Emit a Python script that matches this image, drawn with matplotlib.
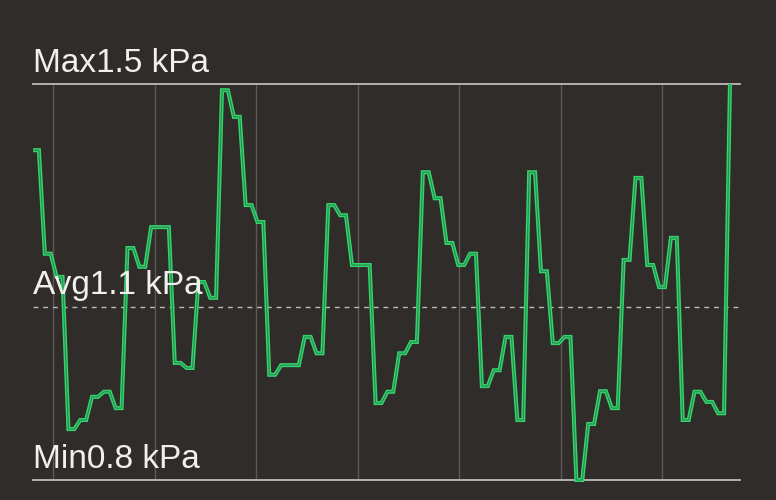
import numpy as np
import matplotlib
matplotlib.use("Agg")
import matplotlib.pyplot as plt

# ---- data (kPa), one value per step ----
pressure = [1.383, 1.200, 1.159, 0.890, 0.906, 0.947, 0.956, 0.927, 1.210, 1.177,
            1.247, 1.247, 1.007, 0.998, 1.150, 1.122, 1.489, 1.442, 1.286, 1.256,
            0.986, 1.003, 1.003, 1.053, 1.024, 1.286, 1.268, 1.180, 1.180, 0.936,
            0.956, 1.024, 1.044, 1.344, 1.298, 1.219, 1.180, 1.200, 0.966, 0.994,
            1.053, 0.906, 1.344, 1.169, 1.042, 1.053, 0.800, 0.899, 0.957, 0.927,
            1.189, 1.334, 1.180, 1.141, 1.228, 0.906, 0.956, 0.938, 0.918, 1.500]
unit = "kPa"
label_names = ["Max", "Avg", "Min"]

# each value is held for two samples (sample-and-hold look)
series = np.repeat(np.array(pressure), 2)[:-1]
samples = np.arange(len(series))

vmax = series.max()
vmin = series.min()
vavg = series.mean()

BG = "#302c2a"
fig = plt.figure(figsize=(7.76, 5.0), dpi=100, facecolor=BG)
ax = fig.add_axes([33 / 776, 20 / 500, (740 - 33) / 776, (480 - 84) / 500])
ax.set_facecolor(BG)
ax.set_xlim(0, 119.7)
ax.set_ylim(vmin, vmax)
for s in ax.spines.values():
    s.set_visible(False)
ax.set_xticks([])
ax.set_yticks([])

# vertical grid lines
grid_pos = [3.4 + 17.19 * k for k in range(7)]
for gx in grid_pos:
    ax.axvline(gx, color="#5e5957", lw=1.0, zorder=1)

# reference lines
ax.axhline(vmax, color="#bdbab8", lw=1.3, zorder=2, clip_on=False)
ax.axhline(vmin, color="#bdbab8", lw=1.3, zorder=2, clip_on=False)
ax.axhline(vavg, color="#bdbab8", lw=1.0, ls=(0, (3.5, 3.5)), zorder=2)

# data line: bright green with slightly darker core
ax.plot(samples, series, color="#36d46f", lw=2.9, zorder=4, clip_on=False,
        solid_joinstyle="miter", solid_capstyle="butt")
ax.plot(samples, series, color="#238a4b", lw=0.8, zorder=5, clip_on=False,
        solid_joinstyle="miter", solid_capstyle="butt")

# labels
for name, val in zip(label_names, [vmax, vavg, vmin]):
    ax.annotate(f"{name}{val:.1f} {unit}", xy=(0, val), xycoords=("axes fraction", "data"),
                xytext=(0, 9.0), textcoords="offset points",
                ha="left", va="baseline", fontsize=24, color="#f2f0ee",
                family=["Liberation Sans", "DejaVu Sans"], zorder=6)

fig.savefig("out.png", dpi=100, facecolor=BG)
